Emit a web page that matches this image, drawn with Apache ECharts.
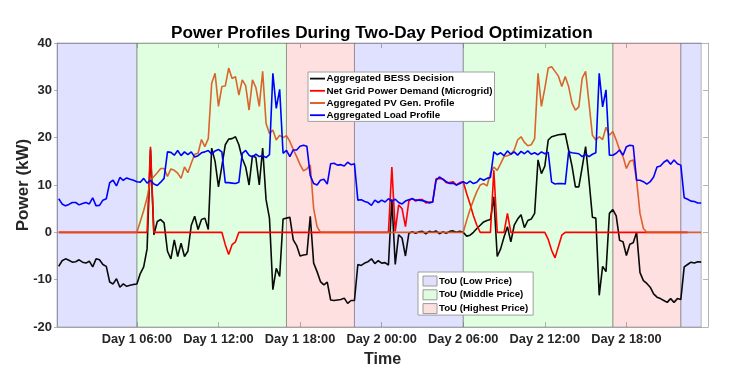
<!DOCTYPE html>
<html><head><meta charset="utf-8">
<script src="https://cdn.jsdelivr.net/npm/echarts@6/dist/echarts.min.js"></script>
<style>html,body{margin:0;padding:0;background:#fff}#c{width:744px;height:386px}</style>
</head><body><div id="c"></div>
<script>
// time axis: 15-minute samples, first sample at 00:15 of Day 1
const startHour = 0.25, stepHour = 0.25;
const tickHours = [6, 12, 18, 24, 30, 36, 42];
const tickLabels = ['Day 1 06:00', 'Day 1 12:00', 'Day 1 18:00', 'Day 2 00:00', 'Day 2 06:00', 'Day 2 12:00', 'Day 2 18:00'];
const seriesNames = ['Aggregated BESS Decision', 'Net Grid Power Demand (Microgrid)', 'Aggregated PV Gen. Profile', 'Aggregated Load Profile'];
const touNames = ['ToU (Low Price)', 'ToU (Middle Price)', 'ToU (Highest Price)'];
const touLow = [[0.125, 6], [22, 30], [46, 47.5]];
const touMid = [[6, 17], [30, 41]];
const touHigh = [[17, 22], [41, 46]];

const bess = [
 -7.2,-6.0,-5.6,-5.9, -6.3,-6.2,-5.8,-6.3, -6.5,-6.1,-7.3,-5.6, -5.8,-6.8,-7.2,-10.5,
 -10.9,-9.8,-11.6,-10.9, -11.4,-11.2,-11.0,-10.9, -8.7,-7.3,-3.5,17.5, -0.5,2.3,2.7,2.0,
 -4.0,-5.6,-1.6,-5.1, -2.3,-5.1,-4.0,1.5, 3.4,0.6,2.7,3.0, 0.6,17.8,15.0,9.6,
 14.0,18.5,19.7,19.8, 20.2,18.5,15.6,13.8, 10.0,16.2,15.8,10.0, 17.8,6.9,3.0,-12.1,
 -7.6,-9.3,2.8,3.0, 3.2,-1.6,-2.8,-5.0, -4.8,-4.7,3.4,-6.5, -8.3,-10.4,-11.1,-10.5,
 -14.3,-14.4,-14.3,-14.2, -13.9,-15.0,-14.4,-14.4, -6.8,-7.0,-6.5,-6.2, -5.6,-6.6,-6.0,-6.5,
 -6.4,-6.9,7.0,-6.8, -0.5,-1.2,-5.0,-0.2, 0.1,-0.2,0.1,0.2, -0.3,0.2,0.0,0.3,
 -0.3,0.1,-0.2,0.2, 0.3,0.0,0.2,0.0, -0.8,-0.6,0.0,0.8, 1.5,2.2,2.5,2.7,
 7.5,-5.1,-3.5,-1.0, 1.2,-2.0,1.5,2.8, 3.7,1.0,2.5,2.8, 4.0,15.3,12.4,14.0,
 19.5,20.2,20.4,20.6, 20.7,20.8,17.4,14.0, 9.6,9.6,13.8,18.1, 11.0,3.2,3.0,-13.3,
 -7.2,-8.3,4.0,4.8, 3.5,-1.7,-2.0,-4.9, -2.5,-2.2,0.0,-8.5, -10.2,-10.8,-11.6,-13.0,
 -13.7,-14.0,-14.4,-14.8, -14.0,-14.8,-14.0,-14.2, -7.3,-6.8,-6.3,-6.5, -6.2,-6.3
];
const netGrid = [
 0,0,0,0, 0,0,0,0, 0,0,0,0, 0,0,0,0, 0,0,0,0, 0,0,0,0,
 0,0,0,18.1, 0,0,0,0, 0,0,0,0, 0,0,0,0, 0,0,0,0, 0,0,0,0,
 0,-2.6,-4.7,-2.6, -2.0,0,0,0, 0,0,0,0, 0,0,0,0,
 0,0,0,0, 0,0,0,0, 0,0,0,0, 0,0,0,0, 0,0,0,0, 0,0,0,0, 0,0,0,0, 0,0,0,0,
 0,0,13.8,0.2, 5.8,5.0,1.2,6.6, 7.2,6.6,6.9,6.9, 6.2,6.4,6.4,11.3,
 11.4,11.3,10.5,10.5, 10.7,10.0,10.5,10.7, 8.2,6.0,3.5,1.5, 0,0,0,0,
 13.1,0,0,0, 4.0,0,0,0, 0,0,0,0, 0,0,0,0,
 -1.5,-3.8,-5.4,-3.0, -0.6,0,0,0, 0,0,0,0, 0,0,0,0,
 0,0,0,0, 0,0,0,0, 0,0,0,0, 0,0,0,0, 0,0,0,0, 0,0,0,0, 0,0
];
const pvGen = [
 0,0,0,0, 0,0,0,0, 0,0,0,0, 0,0,0,0, 0,0,0,0, 0,0,0,0,
 2.3,4.6,7.3,11.0, 11.8,12.6,13.5,13.5, 11.8,13.4,13.1,12.5, 11.4,13.8,12.6,14.6,
 16.5,16.7,19.6,18.1, 19.8,31.5,33.6,26.6, 30.8,30.9,34.7,32.5, 32.9,29.0,32.2,31.0,
 25.8,32.2,30.6,26.6, 34.0,23.0,20.9,21.6, 19.5,20.5,20.0,20.4, 19.2,17.5,16.0,14.3,
 13.0,13.4,14.2,5.0, 1.2,0,0,0,
 0,0,0,0, 0,0,0,0, 0,0,0,0, 0,0,0,0, 0,0,0,0, 0,0,0,0, 0,0,0,0, 0,0,0,0, 0,0,0,0, 0,0,0,0,
 2.5,4.8,6.8,8.6, 10.0,10.3,9.8,12.5, 13.8,13.1,14.5,16.0, 16.2,16.5,17.4,19.5,
 20.2,19.0,18.3,18.5, 19.8,33.6,26.6,30.4, 34.7,35.0,34.0,33.0, 30.8,32.9,30.8,27.3,
 25.8,26.5,32.6,34.0, 27.3,20.5,19.5,20.2, 19.6,22.2,20.5,21.3, 19.5,17.4,16.0,13.5,
 15.0,15.3,11.0,4.0, 0.8,0,0,0, 0,0,0,0, 0,0,0,0, 0,0,0,0, 0,0
];
const load = [
 7.1,6.0,5.6,5.9, 6.3,6.3,5.8,6.1, 6.3,6.0,7.3,5.6, 5.7,6.8,7.1,10.5,
 11.0,9.8,11.6,11.0, 11.5,11.2,11.0,10.7, 10.6,11.4,10.4,11.0, 10.2,9.9,10.6,11.4,
 17.0,16.9,16.3,17.3, 16.2,17.0,16.4,17.0, 15.9,16.2,16.8,17.0, 17.3,16.5,17.2,17.5,
 17.0,10.5,10.5,10.4, 10.3,10.6,16.7,17.3, 16.3,15.9,16.5,16.0, 16.2,15.8,16.4,33.6,
 26.2,30.2,16.7,17.3, 16.0,17.4,17.4,18.2, 18.4,18.2,12.0,10.3, 10.0,11.0,11.2,10.2,
 14.5,14.6,14.2,14.3, 14.0,14.8,14.3,14.5, 6.8,6.9,6.5,6.3, 5.7,6.8,6.3,6.8,
 6.4,7.1,6.5,7.0, 6.3,6.0,6.6,6.9, 7.1,6.8,6.8,6.7, 6.5,6.2,6.4,11.0,
 11.7,11.2,10.7,10.3, 10.4,10.0,10.3,10.7, 10.3,10.8,10.3,10.6, 11.4,11.0,11.4,11.6,
 17.0,16.4,16.8,16.2, 17.2,16.5,17.0,16.3, 17.1,16.6,17.2,16.5, 16.8,16.4,17.0,16.6,
 16.9,10.6,10.2,10.3, 10.3,10.2,17.0,16.8, 16.7,16.6,16.0,16.5, 16.0,16.5,16.8,33.6,
 26.5,30.1,16.3,16.3, 16.7,17.4,16.3,18.1, 18.4,18.3,11.0,11.0, 10.7,10.2,10.7,11.7,
 13.8,14.0,14.8,15.3, 14.4,15.3,14.5,14.2, 7.3,7.0,6.6,6.5, 6.2,6.2
];

const FONT = '"Liberation Sans", Arial, sans-serif';
const toXY = arr => arr.map((v, i) => [startHour + i * stepHour, v]);
const labelFor = v => { const k = tickHours.indexOf(Math.round(v)); return k >= 0 ? tickLabels[k] : ''; };
const axisGray = '#b4b4b4';
const touStyles = [
  {fill: 'rgba(0,0,255,0.12)', icon: '#e0e0fc'},
  {fill: 'rgba(0,255,0,0.12)', icon: '#e0fce0'},
  {fill: 'rgba(255,0,0,0.12)', icon: '#fce0e0'}
];
const touSeries = [touLow, touMid, touHigh].map((ranges, k) => ({
  name: touNames[k], type: 'line', data: [], z: 1, symbol: 'none',
  itemStyle: {color: touStyles[k].icon}, lineStyle: {color: touStyles[k].icon},
  markArea: {silent: true, label: {show: false},
    itemStyle: {color: touStyles[k].fill, borderColor: 'rgba(110,110,110,0.45)', borderWidth: 1},
    data: ranges.map(r => [{xAxis: r[0]}, {xAxis: r[1]}])}
}));
const lineColors = ['#0a0a0a', '#ff0000', '#d95319', '#0000ff'];
const lineData = [bess, netGrid, pvGen, load];
const lineSeries = lineData.map((d, k) => ({
  name: seriesNames[k], type: 'line', data: toXY(d), symbol: 'none', z: 3 + k,
  itemStyle: {color: lineColors[k]},
  lineStyle: {color: lineColors[k], width: 1.6, opacity: k === 2 ? 0.9 : 1}
}));

const chart = echarts.init(document.getElementById('c'), null, {renderer: 'canvas'});
chart.setOption({
  animation: false,
  backgroundColor: '#fff',
  title: {text: 'Power Profiles During Two-Day Period Optimization', left: 166, top: 20,
    textStyle: {fontFamily: FONT, fontSize: 17.2, fontWeight: 'bold', color: '#000'}},
  grid: {left: 57, right: 36, top: 43, bottom: 59, containLabel: false, outerBoundsMode: 'none'},
  xAxis: [
    {type: 'value', min: 0.125, max: 48, position: 'bottom',
     name: 'Time', nameLocation: 'middle', nameGap: 24.5, nameMoveOverlap: false,
     nameTextStyle: {fontFamily: FONT, fontSize: 16, fontWeight: 'bold', color: '#262626'},
     axisLine: {show: true, onZero: false, lineStyle: {color: axisGray}},
     axisTick: {show: true, inside: true, length: 5, customValues: tickHours, lineStyle: {color: axisGray}},
     axisLabel: {customValues: tickHours, formatter: labelFor, margin: 6,
       fontFamily: FONT, fontSize: 12.8, fontWeight: 'bold', color: '#262626'},
     splitLine: {show: false}},
    {type: 'value', min: 0.125, max: 48, position: 'top',
     axisLine: {show: true, onZero: false, lineStyle: {color: axisGray}},
     axisTick: {show: true, inside: true, length: 5, customValues: tickHours, lineStyle: {color: axisGray}},
     axisLabel: {show: false}, splitLine: {show: false}}
  ],
  yAxis: [
    {type: 'value', min: -20, max: 40, interval: 10,
     name: 'Power (kW)', nameLocation: 'middle', nameGap: 25.5, nameMoveOverlap: false,
     nameTextStyle: {fontFamily: FONT, fontSize: 17, fontWeight: 'bold', color: '#262626'},
     axisLine: {show: true, onZero: false, lineStyle: {color: axisGray}},
     axisTick: {show: true, inside: false, length: 3, lineStyle: {color: axisGray}},
     axisLabel: {margin: 5, fontFamily: FONT, fontSize: 13, fontWeight: 'bold', color: '#262626'},
     splitLine: {show: false}},
    {type: 'value', min: -20, max: 40, interval: 10, position: 'right',
     axisLine: {show: true, onZero: false, lineStyle: {color: axisGray}},
     axisTick: {show: true, inside: true, length: 5, lineStyle: {color: axisGray}},
     axisLabel: {show: false}, splitLine: {show: false}}
  ],
  legend: [
    {data: seriesNames, icon: 'rect', orient: 'vertical', left: 308, top: 72, selectedMode: false,
     itemWidth: 15, itemHeight: 1.8, itemGap: 1.8, padding: [1.4, 2, 1, 2],
     backgroundColor: '#fff', borderColor: '#a0a0a0', borderWidth: 1,
     textStyle: {fontFamily: FONT, fontSize: 9.8, fontWeight: 'bold', color: '#000', lineHeight: 10.4,
       padding: [0, 0, 0, -3.5]}},
    {data: touNames.map((n, k) => ({name: n, icon: 'rect',
       itemStyle: {color: touStyles[k].icon, borderColor: '#9a9a9a', borderWidth: 1}})),
     orient: 'vertical', left: 418, top: 272, selectedMode: false,
     itemWidth: 14, itemHeight: 10, itemGap: 2.8, padding: [3.5, 5, 1, 4.5],
     backgroundColor: '#fff', borderColor: '#a0a0a0', borderWidth: 1,
     textStyle: {fontFamily: FONT, fontSize: 9.7, fontWeight: 'bold', color: '#000', lineHeight: 10,
       padding: [0, 0, 0, -3]}}
  ],
  series: touSeries.concat(lineSeries)
});
</script></body></html>
